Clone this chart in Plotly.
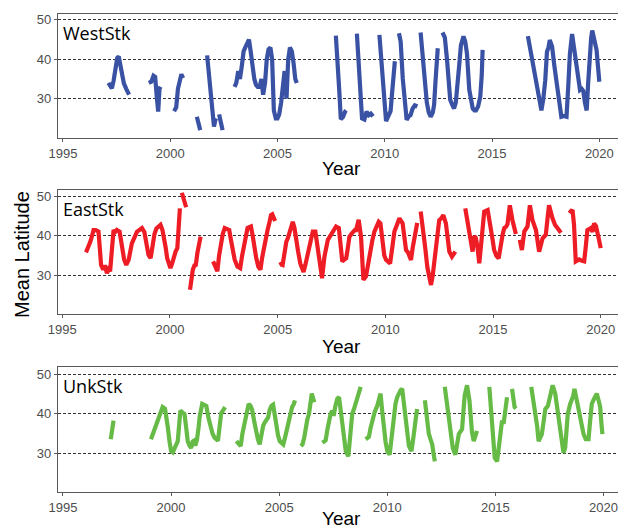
import plotly.graph_objects as go

# ---------------- data (decimal year, mean latitude); None = gap ----------------
west_pts = [
    (1997.12, 34), (1997.2, 33.5), (1997.28, 32.6), (1997.36, 34.5), (1997.45, 38), (1997.53, 40.3),
    (1997.6, 40.7), (1997.68, 38.5), (1997.76, 36.5), (1997.84, 33.9), (1997.95, 32.5), (1998.08, 31),
    None,
    (1999.0, 34), (1999.12, 34.3), (1999.22, 35.8), (1999.3, 35.5), (1999.38, 30), (1999.44, 26.7),
    (1999.5, 32.5), (1999.55, 33),
    None,
    (2000.18, 26.8), (2000.28, 27.8), (2000.36, 32.5), (2000.44, 35), (2000.52, 36.2), (2000.6, 35.2),
    None,
    (2001.24, 25.4), (2001.32, 24), (2001.4, 22),
    None,
    (2001.72, 41), (2001.8, 36), (2001.88, 30), (2001.96, 25), (2002.04, 22.9), (2002.1, 24.5), (2002.14, 25),
    None,
    (2002.28, 26), (2002.36, 24), (2002.44, 22),
    None,
    (2003.0, 33), (2003.08, 34), (2003.17, 37), (2003.25, 35), (2003.33, 38), (2003.42, 42), (2003.5, 43),
    (2003.58, 44), (2003.67, 45), (2003.75, 42), (2003.83, 38), (2003.92, 35), (2004.0, 33.5), (2004.08, 33),
    (2004.17, 33), (2004.25, 35), (2004.33, 31), (2004.42, 34), (2004.5, 40), (2004.58, 42.5), (2004.67, 43),
    (2004.75, 40), (2004.83, 27), (2004.92, 25), (2005.0, 25), (2005.08, 26), (2005.17, 29), (2005.25, 33),
    (2005.33, 37), (2005.42, 30), (2005.5, 40), (2005.58, 43), (2005.67, 42), (2005.75, 39), (2005.83, 35),
    (2005.9, 34),
    None,
    (2007.72, 46), (2007.8, 40), (2007.88, 32), (2007.95, 24.8), (2008.05, 25.3), (2008.15, 26.7), (2008.2, 27),
    None,
    (2008.7, 46.5), (2008.78, 40), (2008.86, 31), (2008.94, 25), (2009.05, 24.7), (2009.15, 26.7),
    (2009.25, 25.8), (2009.35, 26.2), (2009.45, 25.5),
    None,
    (2009.75, 46.2), (2009.84, 39), (2009.94, 30), (2010.06, 24.3), (2010.16, 25.5), (2010.27, 26.8),
    (2010.35, 32), (2010.42, 38.5), (2010.47, 39.5),
    None,
    (2010.66, 46.6), (2010.74, 44.5), (2010.84, 35), (2010.94, 28), (2011.02, 24.6), (2011.12, 25.5),
    (2011.2, 25.8), (2011.3, 27.5), (2011.4, 28.3), (2011.52, 28),
    None,
    (2011.67, 46.8), (2011.76, 41), (2011.86, 33.5), (2011.96, 29), (2012.05, 26.5), (2012.14, 25.4),
    (2012.24, 26.5), (2012.3, 28.5), (2012.36, 34), (2012.42, 40), (2012.47, 42.8),
    None,
    (2012.69, 46.8), (2012.8, 45.5), (2012.9, 40), (2012.98, 33), (2013.05, 29.7), (2013.14, 28.5),
    (2013.23, 27.5), (2013.31, 29), (2013.39, 33), (2013.47, 38.5), (2013.55, 43.6), (2013.67, 45.8),
    (2013.75, 44.5), (2013.83, 41.5), (2013.94, 32.2), (2014.02, 29), (2014.1, 27.5), (2014.18, 27),
    (2014.25, 27), (2014.35, 28), (2014.45, 30.5), (2014.52, 36), (2014.56, 42.4),
    None,
    (2016.67, 45.9), (2016.8, 42), (2016.9, 39.5), (2016.98, 37.3), (2017.08, 33.5), (2017.17, 30.5),
    (2017.24, 28.5), (2017.3, 27), (2017.39, 30), (2017.48, 34.7), (2017.56, 41.9), (2017.63, 43),
    (2017.69, 44.9), (2017.8, 43.2), (2017.9, 38.5), (2018.0, 33.9), (2018.1, 29.5), (2018.18, 26.5),
    (2018.23, 25.4), (2018.35, 25.6), (2018.47, 25.4), (2018.55, 33), (2018.63, 41.5), (2018.73, 46.4),
    (2018.8, 43.5), (2018.89, 39.8), (2019.0, 36), (2019.1, 32.2), (2019.18, 32.5), (2019.25, 32),
    (2019.33, 29), (2019.41, 27), (2019.48, 34), (2019.56, 42.4), (2019.62, 45.5), (2019.67, 47.3),
    (2019.75, 45), (2019.87, 42.4), (2019.94, 38), (2020.0, 34.3),
]

east_pts = [
    (1996.1, 35.8), (1996.2, 37), (1996.3, 38.5), (1996.37, 39.8), (1996.45, 41.5), (1996.55, 41.5),
    (1996.68, 41.1), (1996.74, 37), (1996.8, 32.6), (1996.9, 31.4), (1996.98, 32.5), (1997.07, 30.5),
    (1997.15, 31.5), (1997.22, 31), (1997.3, 36), (1997.38, 41.5), (1997.45, 41), (1997.53, 41.5),
    (1997.66, 41.1), (1997.77, 36.4), (1997.87, 34), (1997.97, 32.6), (1998.08, 33.9), (1998.23, 38.1),
    (1998.35, 40), (1998.47, 41.1), (1998.58, 41.5), (1998.7, 42), (1998.81, 41), (1998.9, 38),
    (1999.0, 35.2), (1999.1, 34.3), (1999.2, 38.1), (1999.28, 40.5), (1999.37, 41.9), (1999.47, 42.3),
    (1999.56, 42.8), (1999.65, 41.5), (1999.71, 40), (1999.8, 37), (1999.87, 34.3), (2000.02, 31.8),
    (2000.1, 33), (2000.18, 34.7), (2000.26, 36), (2000.34, 36.9), (2000.4, 42), (2000.46, 47),
    None,
    (2000.55, 51), (2000.65, 49.5), (2000.75, 47.3),
    None,
    (2000.93, 26.3), (2001.0, 29), (2001.06, 31.4), (2001.14, 32.5), (2001.2, 32.6), (2001.27, 35.6),
    (2001.35, 37.8), (2001.42, 39.8),
    None,
    (2002.0, 33.5), (2002.1, 32), (2002.2, 31), (2002.28, 35), (2002.36, 38.1), (2002.45, 40.5),
    (2002.54, 42), (2002.65, 41.8), (2002.75, 41.5), (2002.83, 39), (2002.9, 36.4), (2003.0, 34),
    (2003.13, 32.2), (2003.26, 31.8), (2003.35, 35), (2003.45, 38.1), (2003.52, 40.5), (2003.6, 42),
    (2003.68, 42.2), (2003.76, 42.4), (2003.84, 40), (2003.91, 37.3), (2004.0, 34.5), (2004.1, 32.2),
    (2004.2, 31.4), (2004.28, 34.5), (2004.38, 37.7), (2004.45, 39.5), (2004.53, 41.5), (2004.6, 43),
    (2004.69, 45.3), (2004.75, 45.5), (2004.81, 44.5), (2004.88, 43.8),
    None,
    (2005.08, 32.6), (2005.15, 32.8), (2005.23, 32.6), (2005.32, 36), (2005.4, 38.5), (2005.47, 39.4),
    (2005.55, 41), (2005.63, 42.5), (2005.7, 43.6), (2005.78, 42), (2005.86, 39.8), (2005.95, 36),
    (2006.05, 33), (2006.12, 32), (2006.2, 30.8), (2006.28, 32.5), (2006.37, 34.7), (2006.48, 37.3),
    (2006.55, 39), (2006.63, 41.1), (2006.75, 41.1), (2006.86, 37.3), (2006.96, 33), (2007.06, 29.2),
    (2007.17, 34.7), (2007.25, 37), (2007.33, 39), (2007.48, 40.3), (2007.6, 41.5), (2007.71, 42.4),
    (2007.84, 42), (2007.92, 37.5), (2008.0, 33.5), (2008.1, 34), (2008.18, 34.3), (2008.26, 37),
    (2008.33, 39.8), (2008.42, 40.5), (2008.49, 41.1), (2008.58, 41.5), (2008.64, 41.5), (2008.7, 42.5),
    (2008.76, 44.1), (2008.87, 39.8), (2008.93, 33), (2008.98, 28.8), (2009.1, 29.7), (2009.2, 33),
    (2009.29, 36.4), (2009.4, 39), (2009.49, 41.1), (2009.6, 42.5), (2009.69, 43.6), (2009.77, 43.2),
    (2009.88, 36.4), (2009.95, 35), (2010.03, 33.9), (2010.12, 33.5), (2010.22, 33), (2010.32, 37),
    (2010.42, 41.1), (2010.55, 43), (2010.65, 44.5), (2010.8, 43.2), (2010.88, 40), (2010.96, 36.4),
    (2011.05, 35.8), (2011.11, 35.2), (2011.19, 33.9), (2011.27, 37), (2011.35, 39.8), (2011.42, 42.8),
    (2011.48, 43.3),
    None,
    (2011.64, 46.2), (2011.75, 42), (2011.85, 37), (2011.95, 32), (2012.05, 29.5), (2012.12, 27.5),
    (2012.2, 30), (2012.28, 33.5), (2012.35, 36.4), (2012.42, 40.5), (2012.5, 44), (2012.6, 44.5),
    (2012.69, 45.3), (2012.81, 43.2), (2012.9, 39.5), (2012.97, 36), (2013.09, 34.7), (2013.17, 35.2),
    (2013.25, 36),
    None,
    (2013.71, 47), (2013.82, 43.2), (2013.93, 39.8), (2014.05, 36), (2014.13, 40), (2014.2, 39.5),
    (2014.28, 37), (2014.36, 33), (2014.44, 37.5), (2014.52, 42.5), (2014.59, 46.2), (2014.75, 46.6),
    (2014.9, 42.4), (2014.98, 39), (2015.05, 36.4), (2015.15, 35), (2015.26, 34.3), (2015.36, 38.6),
    (2015.45, 40.5), (2015.52, 42), (2015.6, 42.3), (2015.67, 43), (2015.78, 47.8), (2015.9, 44),
    (2015.98, 42), (2016.06, 40.5),
    None,
    (2016.24, 39), (2016.34, 36.4), (2016.45, 41.1), (2016.52, 41.8), (2016.6, 42.4), (2016.71, 47.8),
    (2016.83, 44), (2016.99, 41.5), (2017.06, 38.5), (2017.14, 36), (2017.3, 39.4), (2017.45, 40.3),
    (2017.52, 44), (2017.6, 47.8), (2017.76, 44.5), (2017.88, 42.8), (2017.99, 42), (2018.07, 41.5),
    (2018.15, 40.8),
    None,
    (2018.53, 46.6), (2018.62, 46.2), (2018.69, 46.6), (2018.76, 42.8), (2018.84, 33.5), (2018.92, 33.8),
    (2019.0, 34), (2019.1, 33.7), (2019.23, 33.5), (2019.3, 37), (2019.38, 41.5), (2019.46, 41.7),
    (2019.54, 42), (2019.62, 41), (2019.69, 43.2), (2019.78, 42.5), (2019.85, 41.1), (2019.92, 39),
    (2020.0, 36.9),
]

unk_pts = [
    (1997.21, 33.6), (1997.28, 36.5), (1997.34, 38.3),
    None,
    (1999.07, 33.6), (1999.2, 35.5), (1999.3, 36.8), (1999.38, 37.8), (1999.5, 40), (1999.61, 41.7),
    (1999.72, 41.3), (1999.8, 39), (1999.85, 36.6), (1999.93, 33), (2000.0, 30.6), (2000.08, 30.3),
    (2000.15, 31), (2000.23, 32), (2000.31, 33.1), (2000.37, 37), (2000.43, 40.8), (2000.54, 40.3),
    (2000.62, 40), (2000.7, 36.5), (2000.77, 33.1), (2000.85, 32), (2000.93, 31.4), (2001.0, 33),
    (2001.05, 33.2), (2001.12, 32), (2001.2, 33.5), (2001.27, 36.5), (2001.32, 39.1), (2001.44, 42.5),
    (2001.55, 42.3), (2001.63, 42), (2001.73, 39), (2001.83, 36.6), (2001.92, 35), (2002.01, 34),
    (2002.1, 33.5), (2002.17, 33.2), (2002.25, 37), (2002.32, 40.2), (2002.42, 41), (2002.5, 41.7),
    None,
    (2003.02, 33.1), (2003.1, 32.5), (2003.22, 31.9), (2003.3, 35), (2003.41, 38.3), (2003.5, 41),
    (2003.59, 42.5), (2003.68, 42), (2003.75, 41), (2003.85, 38), (2003.95, 34.9), (2004.02, 33.5),
    (2004.1, 32.3), (2004.18, 35), (2004.26, 37), (2004.33, 37.8), (2004.4, 38.5), (2004.49, 39.1),
    (2004.56, 41), (2004.64, 42), (2004.72, 42.3), (2004.8, 39.5), (2004.87, 36.6), (2004.95, 34.5),
    (2005.03, 33.1), (2005.11, 32.5), (2005.19, 32.3), (2005.27, 34), (2005.34, 35.7), (2005.42, 37.5),
    (2005.5, 39.5), (2005.6, 41.7), (2005.68, 42.5), (2005.73, 43.4),
    None,
    (2006.0, 31.9), (2006.08, 32.3), (2006.16, 34), (2006.23, 36.6), (2006.3, 38.5), (2006.38, 40),
    (2006.45, 42.5), (2006.51, 45.1), (2006.57, 44), (2006.62, 42.9),
    None,
    (2007.0, 32.7), (2007.08, 33), (2007.15, 33.3), (2007.23, 36), (2007.31, 38.3), (2007.38, 40),
    (2007.46, 40.8), (2007.52, 39.5), (2007.6, 42), (2007.69, 43.8), (2007.77, 44.2), (2007.85, 40.5),
    (2007.92, 36.6), (2008.0, 33.5), (2008.08, 30.6), (2008.2, 29.3), (2008.26, 34), (2008.31, 38.3),
    (2008.38, 40), (2008.46, 41.2), (2008.54, 42.5), (2008.66, 44.2), (2008.77, 46.8),
    None,
    (2009.0, 33.6), (2009.08, 34), (2009.15, 34.2), (2009.23, 36.5), (2009.31, 38.3), (2009.42, 40.5),
    (2009.54, 42.1), (2009.62, 43.8), (2009.69, 45.1), (2009.77, 40.5), (2009.85, 35.7), (2009.92, 33),
    (2010.0, 30.6), (2010.11, 29.7), (2010.17, 32.5), (2010.23, 35.7), (2010.3, 39), (2010.38, 42.5),
    (2010.46, 44.2), (2010.54, 45.5), (2010.62, 46), (2010.69, 46.3), (2010.77, 42), (2010.85, 37.8),
    (2010.92, 34.5), (2011.0, 31.9), (2011.12, 30.6), (2011.18, 32.5), (2011.23, 34.9), (2011.3, 38),
    (2011.38, 41.2),
    None,
    (2011.74, 43.4), (2011.8, 40), (2011.85, 36.6), (2011.92, 35), (2012.0, 33.6), (2012.08, 32.3),
    (2012.14, 30), (2012.2, 28),
    None,
    (2012.66, 46.8), (2012.75, 43), (2012.85, 39.1), (2012.94, 35), (2013.03, 31.4), (2013.15, 29.7),
    (2013.23, 32.5), (2013.31, 34.9), (2013.38, 35.5), (2013.46, 36.1), (2013.52, 40.5), (2013.58, 44.6),
    (2013.69, 47.2), (2013.8, 43.4), (2013.86, 39.5), (2013.92, 35.3), (2014.0, 33.1), (2014.08, 34.5),
    (2014.15, 35.7),
    None,
    (2014.72, 46.8), (2014.78, 43), (2014.85, 39.1), (2014.92, 33), (2014.97, 28.9), (2015.08, 28),
    (2015.15, 31), (2015.23, 34.9), (2015.31, 38.3), (2015.38, 37.5), (2015.46, 41), (2015.54, 44.2),
    None,
    (2015.77, 46.3), (2015.89, 41.7), (2015.95, 41.3),
    None,
    (2016.66, 46.8), (2016.75, 44), (2016.85, 40.8), (2016.93, 37), (2017.0, 33.1), (2017.08, 34),
    (2017.15, 34.9), (2017.23, 38), (2017.31, 41.2), (2017.43, 42), (2017.54, 44.2), (2017.65, 47.2),
    (2017.77, 45.1), (2017.85, 42), (2017.92, 39.1), (2018.0, 36.5), (2018.08, 34), (2018.15, 30.2),
    (2018.23, 31.5), (2018.3, 36), (2018.35, 40), (2018.46, 42.5), (2018.54, 43.4), (2018.6, 44.5),
    (2018.66, 46.3), (2018.77, 43.4), (2018.85, 41), (2018.92, 39.1), (2019.0, 37), (2019.08, 34.9),
    (2019.18, 33.6), (2019.31, 33.6), (2019.38, 38), (2019.46, 42.5), (2019.54, 43.5), (2019.62, 44.6),
    (2019.69, 45.1), (2019.77, 43.5), (2019.85, 41.7), (2019.9, 38), (2019.95, 34.9),
]

panel_names = ["WestStk", "EastStk", "UnkStk"]
panel_colors = ["#3a52a4", "#ee1c25", "#66bb46"]
year_ticks = [1995, 2000, 2005, 2010, 2015, 2020]
lat_ticks = [30, 40, 50]

# ---------------- layout geometry (window pixels) ----------------
WIN_W, WIN_H = 626, 529
OFF = 8                      # default page body margin
W, H = WIN_W - OFF, WIN_H - OFF
left_px, right_px = 58, 624
panel_px = [(14, 138), (190, 314), (367, 492)]
y_ranges = [[20.0, 51.5], [20.1, 51.7], [20.3, 51.8]]
x_ranges = [[1994.77, 2021.15], [1994.8, 2021.08], [1994.77, 2020.95]]
year_title_px = [168, 346, 518]


def fx(px):
    return (px - OFF) / W


def fy(py):
    return 1 - (py - OFF) / H


def split(pts):
    xs = [p[0] if p else None for p in pts]
    ys = [p[1] if p else None for p in pts]
    return xs, ys


fig = go.Figure()
series = [west_pts, east_pts, unk_pts]
axis_style = dict(showline=True, mirror=True, linecolor="#595959", linewidth=1.3,
                  ticks="outside", ticklen=3, tickcolor="#595959", zeroline=False,
                  automargin=False,
                  tickfont=dict(family="Liberation Sans, Arial", size=13, color="#4d4d4d"))

for i, pts in enumerate(series):
    xs, ys = split(pts)
    sfx = "" if i == 0 else str(i + 1)
    fig.add_trace(go.Scatter(x=xs, y=ys, mode="lines", connectgaps=False,
                             line=dict(color=panel_colors[i], width=4.2),
                             xaxis="x" + sfx, yaxis="y" + sfx, showlegend=False,
                             hoverinfo="skip"))
    top, bot = panel_px[i]
    fig.layout["xaxis" + sfx] = dict(domain=[fx(left_px), min(fx(right_px), 1)], anchor="y" + sfx,
                                     range=x_ranges[i], tickvals=year_ticks, showgrid=False,
                                     **axis_style)
    fig.layout["yaxis" + sfx] = dict(domain=[fy(bot), fy(top)], anchor="x" + sfx,
                                     range=y_ranges[i], tickvals=lat_ticks, showgrid=True,
                                     gridcolor="#333333", griddash="3px,2px", gridwidth=1,
                                     **axis_style)
    fig.add_annotation(x=fx(61), y=fy(top + 19), xref="paper", yref="paper",
                       text=panel_names[i], showarrow=False, xanchor="left", yanchor="middle",
                       font=dict(family="Open Sans, Noto Sans", size=18, color="black"))
    fig.add_annotation(x=fx((left_px + right_px) / 2), y=fy(year_title_px[i]),
                       xref="paper", yref="paper", text="Year", showarrow=False,
                       xanchor="center", yanchor="middle",
                       font=dict(family="Liberation Sans, Arial", size=19, color="black"))

fig.add_annotation(x=fx(22), y=fy(255), xref="paper", yref="paper", text="Mean Latitude",
                   showarrow=False, textangle=-90, xanchor="center", yanchor="middle",
                   font=dict(family="Liberation Sans, Arial", size=20, color="black"))

fig.update_layout(width=W, height=H, margin=dict(l=0, r=0, t=0, b=0),
                  paper_bgcolor="white", plot_bgcolor="white")
fig.write_html("out.html")
